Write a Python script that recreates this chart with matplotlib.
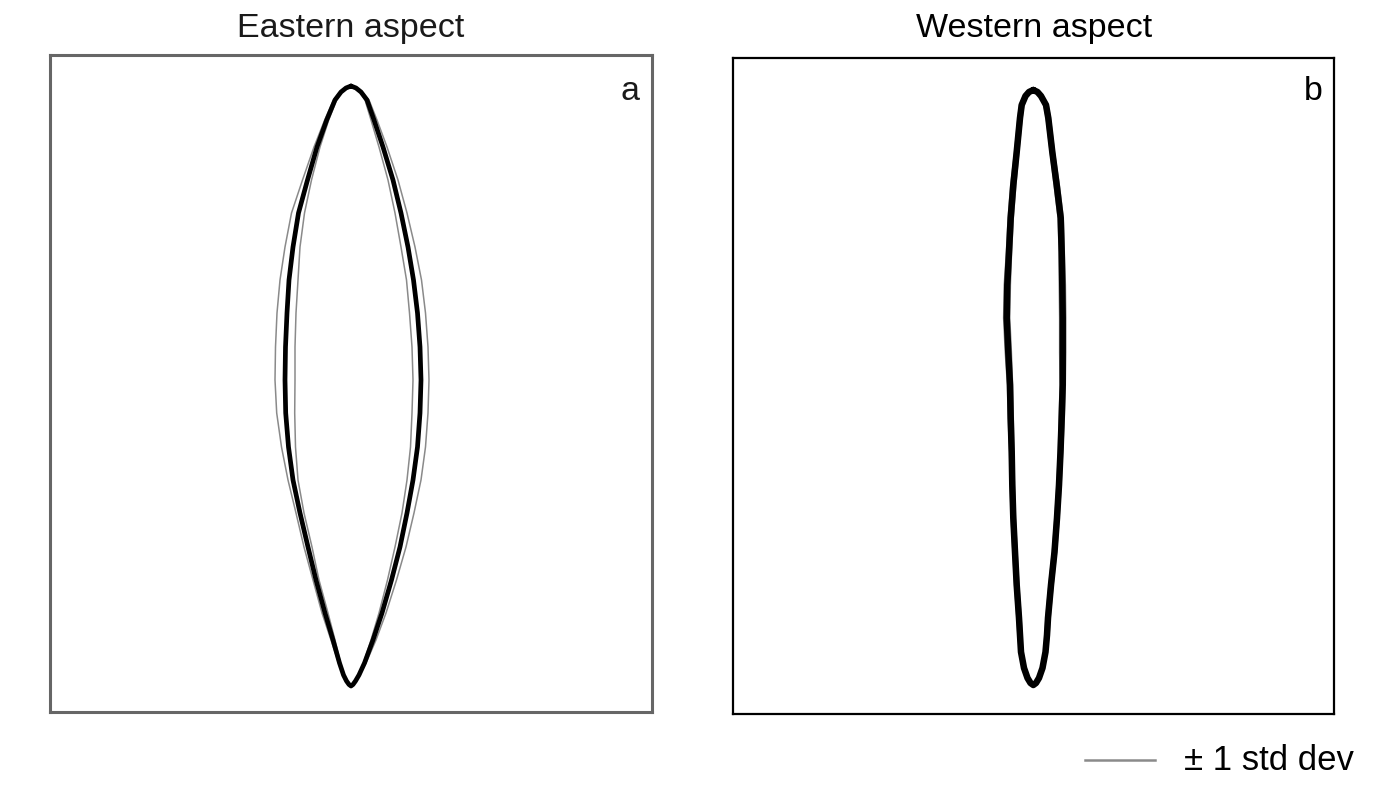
import matplotlib
matplotlib.use("Agg")
import matplotlib.pyplot as plt
from matplotlib.lines import Line2D
import numpy as np

plt.rcParams['font.family'] = ['Liberation Sans', 'DejaVu Sans']

# ---------------- data: leaf outlines (image-pixel coordinates) ----------------
# Panel a: Eastern aspect (mean outline, left and right edges at each height)
east_y     = [86, 88, 92, 100, 120, 147, 180, 213, 247, 280, 313, 347, 380, 413, 447, 480, 513, 547, 580, 613, 640, 663, 675, 681, 684.5, 686]
east_left  = [351, 346, 341, 335, 326.7, 317, 307.5, 298.5, 293, 289, 287, 285.5, 285, 285.7, 288.5, 293, 300, 308, 316, 325, 333, 339.5, 343.5, 346.5, 349, 351]
east_right = [351, 356, 361, 367, 374, 383, 393, 401, 408, 413.5, 417.5, 420, 421, 420, 417.5, 413, 407, 400, 391.5, 382, 373, 364.5, 359, 355.5, 353, 351]
# +/- 1 std dev spread (outward / inward) per side
east_sd_left_out  = [0, 0.5, 1, 1.5, 2, 3, 5, 7, 8, 9, 10, 10, 10, 9, 7, 5, 4, 4, 3, 3, 2, 1, 0.5, 0.3, 0, 0]
east_sd_left_in   = [0, 0.5, 1, 1.5, 2, 3, 4, 6, 7, 9, 9, 9.5, 10, 9, 7, 5, 4, 4, 3, 3, 2, 1, 0.5, 0.3, 0, 0]
east_sd_right_out = [0, 0.5, 1, 2, 3, 4, 5, 6, 7, 8, 8, 8, 8, 8, 8, 8, 7, 6, 5, 4, 3, 1.5, 0.8, 0.4, 0, 0]
east_sd_right_in  = [0, 0.5, 1, 2, 3, 4, 5, 6, 7, 7, 8, 8, 8, 8, 7, 6, 5, 5, 4, 3, 2, 1, 0.5, 0.3, 0, 0]

# Panel b: Western aspect
west_y     = [90, 92, 96, 105, 118, 152, 185, 218, 252, 285, 318, 352, 385, 418, 452, 485, 518, 552, 585, 618, 635, 652, 668, 678, 683, 685]
west_left  = [1033.3, 1029, 1025.5, 1021.7, 1020, 1016.7, 1013.3, 1010.7, 1009, 1007.3, 1006.7, 1008.3, 1010, 1010.7, 1011.7, 1012.3, 1013.3, 1015, 1016.7, 1019, 1020, 1021, 1024, 1027.5, 1030.5, 1033.3]
west_right = [1033.3, 1037.5, 1041, 1046, 1048.3, 1052.3, 1056.7, 1060.7, 1061.7, 1062.3, 1062.7, 1062.7, 1062.7, 1061.7, 1060.5, 1059, 1057, 1054.5, 1051, 1048, 1047, 1045.5, 1042.5, 1039, 1036, 1033.3]
west_sd    = [1, 1.5, 2, 2, 2, 2, 2.5, 2.5, 2.5, 3, 3, 3, 2.5, 2.5, 2, 2, 2, 2, 2, 2, 2, 1.5, 1.5, 1, 1, 1]

titles = ["Eastern aspect", "Western aspect"]
panel_labels = ["a", "b"]
legend_label = "\u00b1 1 std dev"

# ---------------- figure ----------------
W, H = 1378, 785
fig = plt.figure(figsize=(W / 100, H / 100), dpi=100)

def outline(y, left, right):
    y = np.asarray(y, float)
    xs = np.concatenate([np.asarray(left, float), np.asarray(right, float)[::-1]])
    ys = np.concatenate([y, y[::-1]])
    return xs, ys

def make_axes(x0, y0, x1, y1, color, lw):
    ax = fig.add_axes([x0 / W, 1 - y1 / H, (x1 - x0) / W, (y1 - y0) / H])
    ax.set_xlim(x0, x1)
    ax.set_ylim(y1, y0)
    ax.set_xticks([])
    ax.set_yticks([])
    for s in ax.spines.values():
        s.set_color(color)
        s.set_linewidth(lw)
    return ax

gray = '#8a8a8a'

# Panel a
axa = make_axes(50, 55, 652, 712, '#666666', 2.2)
ey = np.asarray(east_y, float)
el = np.asarray(east_left, float)
er = np.asarray(east_right, float)
xs, ys = outline(ey, el - np.asarray(east_sd_left_out), er + np.asarray(east_sd_right_out))
axa.plot(xs, ys, color=gray, lw=1.1, solid_joinstyle='round')
xs, ys = outline(ey, el + np.asarray(east_sd_left_in), er - np.asarray(east_sd_right_in))
axa.plot(xs, ys, color=gray, lw=1.1, solid_joinstyle='round')
xs, ys = outline(ey, el, er)
axa.plot(xs, ys, color='black', lw=3.4, solid_joinstyle='round', solid_capstyle='round')

# Panel b
axb = make_axes(733, 58, 1334, 714, 'black', 1.6)
wy = np.asarray(west_y, float)
wl = np.asarray(west_left, float)
wr = np.asarray(west_right, float)
sd = np.asarray(west_sd, float)
xs, ys = outline(wy, wl - sd, wr + sd)
axb.plot(xs, ys, color=gray, lw=1.2, solid_joinstyle='round')
xs, ys = outline(wy, wl + sd, wr - sd)
axb.plot(xs, ys, color=gray, lw=1.2, solid_joinstyle='round')
xs, ys = outline(wy, wl, wr)
axb.plot(xs, ys, color='black', lw=4.7, solid_joinstyle='round', solid_capstyle='round')

# titles and panel labels
fig.text(351 / W, 1 - 28 / H, titles[0], ha='center', va='center', fontsize=24.5, color='#1a1a1a')
fig.text(1034 / W, 1 - 28 / H, titles[1], ha='center', va='center', fontsize=24.5, color='black')
fig.text(630 / W, 1 - 92 / H, panel_labels[0], ha='center', va='center', fontsize=24.5, color='#1a1a1a')
fig.text(1313 / W, 1 - 92 / H, panel_labels[1], ha='center', va='center', fontsize=24.5, color='black')

# legend
fig.add_artist(Line2D([1085 / W, 1155 / W], [1 - 760 / H, 1 - 760 / H],
                      transform=fig.transFigure, color=gray, lw=1.8))
fig.text(1184 / W, 1 - 760 / H, legend_label, ha='left', va='center', fontsize=25, color='black')

fig.savefig('out.png', dpi=100)
